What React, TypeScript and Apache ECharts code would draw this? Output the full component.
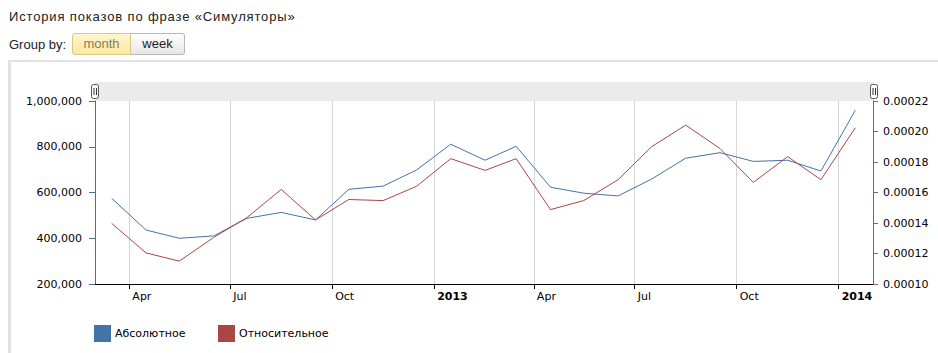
import React, { useEffect, useRef } from 'react';
import * as echarts from 'echarts';

// Monthly points (plotted at mid-month)
const monthDates = [
  '2012-03-16', '2012-04-16', '2012-05-16', '2012-06-16', '2012-07-16', '2012-08-16',
  '2012-09-16', '2012-10-16', '2012-11-16', '2012-12-16', '2013-01-16', '2013-02-16',
  '2013-03-16', '2013-04-16', '2013-05-16', '2013-06-16', '2013-07-16', '2013-08-16',
  '2013-09-16', '2013-10-16', '2013-11-16', '2013-12-16', '2014-01-16',
];

const absoluteValues = [
  575000, 436000, 400000, 410000, 487000, 513000,
  480000, 614000, 628000, 698000, 811000, 741000,
  802000, 623000, 597000, 585000, 658000, 750000,
  774000, 736000, 741000, 694000, 959000,
];

const relativeValues = [
  0.0001398, 0.0001204, 0.000115, 0.0001305, 0.0001435, 0.000162,
  0.000142, 0.0001554, 0.0001547, 0.000164, 0.0001822, 0.0001745,
  0.0001822, 0.0001488, 0.0001547, 0.0001684, 0.0001899, 0.0002042,
  0.0001888, 0.0001666, 0.0001835, 0.0001684, 0.0002024,
];

const monthNames = ['Jan', 'Feb', 'Mar', 'Apr', 'May', 'Jun', 'Jul', 'Aug', 'Sep', 'Oct', 'Nov', 'Dec'];
const seriesNames = ['Абсолютное', 'Относительное'];
const titleText = 'История показов по фразе «Симуляторы»';
const groupByLabel = 'Group by:';
const groupOptions = ['month', 'week'];

const BLUE = '#4572A7';
const RED = '#AA4643';
const FONT = '"DejaVu Sans", Verdana, sans-serif';

function handle(x: number) {
  return {
    type: 'group',
    silent: true,
    children: [
      { type: 'rect', shape: { x: x - 3.5, y: 84.5, width: 7, height: 14, r: 2 }, style: { fill: '#fff', stroke: '#555', lineWidth: 1 } },
      { type: 'line', shape: { x1: x - 1, y1: 88, x2: x - 1, y2: 95 }, style: { stroke: '#333', lineWidth: 1 } },
      { type: 'line', shape: { x1: x + 1.5, y1: 88, x2: x + 1.5, y2: 95 }, style: { stroke: '#333', lineWidth: 1 } },
    ],
  };
}

export default function App() {
  const ref = useRef<HTMLDivElement>(null);

  useEffect(() => {
    const chart = echarts.init(ref.current!, null, { renderer: 'svg' });
    const quarter = 93 * 24 * 3600 * 1000;
    chart.setOption({
      animation: false,
      textStyle: { fontFamily: FONT },
      grid: { left: 95, right: 65, top: 101, bottom: 69, containLabel: false },
      legend: [
        {
          data: [seriesNames[0]], left: 94, top: 325, padding: 0, icon: 'rect',
          itemWidth: 17, itemHeight: 17, itemGap: 0, selectedMode: false,
          textStyle: { fontSize: 11, color: '#000', fontFamily: FONT, padding: [0, 0, 0, -1] },
        },
        {
          data: [seriesNames[1]], left: 218, top: 325, padding: 0, icon: 'rect',
          itemWidth: 17, itemHeight: 17, itemGap: 0, selectedMode: false,
          textStyle: { fontSize: 11, color: '#000', fontFamily: FONT, padding: [0, 0, 0, -1] },
        },
      ],
      xAxis: {
        type: 'time',
        min: +new Date(2012, 2, 1),
        max: +new Date(2014, 1, 1),
        minInterval: quarter,
        maxInterval: quarter,
        axisLine: { lineStyle: { color: '#000', width: 1 } },
        axisTick: { show: true, length: 5, lineStyle: { color: '#000' } },
        splitLine: { show: true, lineStyle: { color: '#d6d6d6', width: 1 } },
        axisLabel: {
          showMinLabel: false,
          showMaxLabel: false,
          align: 'left',
          padding: [0, 0, 0, 3],
          margin: 7,
          color: '#000',
          fontSize: 11,
          fontFamily: FONT,
          formatter: (value: number) => {
            const d = new Date(value);
            const m = d.getMonth();
            return m === 0 ? `{yr|${d.getFullYear()}}` : monthNames[m];
          },
          rich: {
            yr: { fontWeight: 'bold', fontSize: 11, color: '#000', fontFamily: FONT },
          },
        },
      },
      yAxis: [
        {
          type: 'value',
          position: 'left',
          min: 200000,
          max: 1000000,
          interval: 200000,
          axisLine: { show: true, lineStyle: { color: '#4d6f94' } },
          axisTick: { show: true, length: 6, lineStyle: { color: '#4d6f94' } },
          splitLine: { show: false },
          axisLabel: {
            margin: 13,
            color: '#000',
            fontSize: 11,
            fontFamily: FONT,
            formatter: (v: number) => v.toLocaleString('en-US'),
          },
        },
        {
          type: 'value',
          position: 'right',
          min: 0.0001,
          max: 0.00022,
          interval: 0.00002,
          axisLine: { show: true, lineStyle: { color: '#9a5a52' } },
          axisTick: { show: true, length: 5, lineStyle: { color: '#9a5a52' } },
          splitLine: { show: false },
          axisLabel: {
            margin: 10,
            color: '#000',
            fontSize: 11,
            fontFamily: FONT,
            formatter: (v: number) => v.toFixed(5),
          },
        },
      ],
      series: [
        {
          name: seriesNames[0],
          type: 'line',
          yAxisIndex: 0,
          showSymbol: false,
          silent: true,
          color: BLUE,
          lineStyle: { color: BLUE, width: 1 },
          data: monthDates.map((d, i) => [d, absoluteValues[i]]),
        },
        {
          name: seriesNames[1],
          type: 'line',
          yAxisIndex: 1,
          showSymbol: false,
          silent: true,
          color: RED,
          lineStyle: { color: RED, width: 1 },
          data: monthDates.map((d, i) => [d, relativeValues[i]]),
        },
      ],
      graphic: [
        { type: 'line', silent: true, shape: { x1: 8, y1: 61, x2: 938, y2: 61 }, style: { stroke: '#e2e2e2', lineWidth: 2 } },
        { type: 'line', silent: true, shape: { x1: 9.5, y1: 60, x2: 9.5, y2: 353 }, style: { stroke: '#e2e2e2', lineWidth: 3 } },
        { type: 'rect', silent: true, z: -1, shape: { x: 95, y: 82, width: 779, height: 19 }, style: { fill: '#ebebeb' } },
        handle(95),
        handle(874),
      ],
    });
    return () => chart.dispose();
  }, []);

  const textFont = '"Liberation Sans", Arial, sans-serif';
  return (
    <div style={{ position: 'absolute', left: 0, top: 0, width: 938, height: 353, overflow: 'hidden', background: '#fff' }}>
      <div ref={ref} style={{ position: 'absolute', left: 0, top: 0, width: 938, height: 353 }} />
      <div style={{ position: 'absolute', left: 9, top: 9, fontFamily: textFont, fontSize: 13, letterSpacing: '0.85px', lineHeight: '15px', color: '#222', whiteSpace: 'nowrap' }}>
        {titleText}
      </div>
      <div style={{ position: 'absolute', left: 9, top: 37, fontFamily: textFont, fontSize: 13, lineHeight: '15px', color: '#222', whiteSpace: 'nowrap' }}>
        {groupByLabel}
      </div>
      <div style={{
        position: 'absolute', left: 72, top: 33, width: 59, height: 22, boxSizing: 'border-box',
        border: '1px solid #d8c78a', borderRadius: '3px 0 0 3px',
        background: 'linear-gradient(#fff6cf, #ffe8a0)', fontFamily: textFont, fontSize: 13,
        lineHeight: '20px', textAlign: 'center', color: '#8a7d55',
      }}>{groupOptions[0]}</div>
      <div style={{
        position: 'absolute', left: 131, top: 33, width: 54, height: 22, boxSizing: 'border-box',
        border: '1px solid #b8b8b8', borderLeft: 'none', borderRadius: '0 3px 3px 0',
        background: 'linear-gradient(#ffffff, #e6e6e6)', fontFamily: textFont, fontSize: 13,
        lineHeight: '20px', textAlign: 'center', color: '#222',
      }}>{groupOptions[1]}</div>
    </div>
  );
}
